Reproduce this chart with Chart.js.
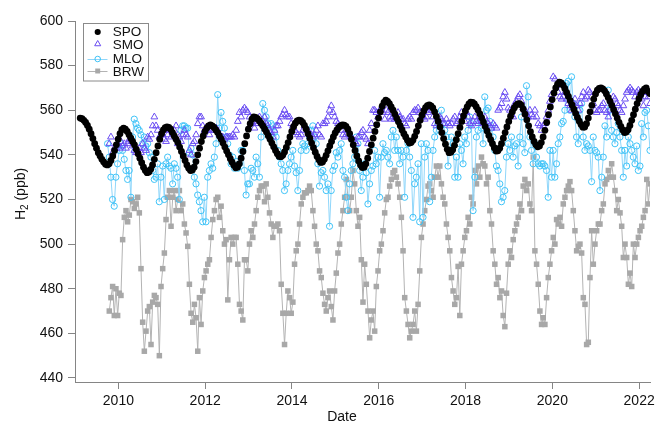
<!DOCTYPE html>
<html><head><meta charset="utf-8">
<script src="https://cdn.jsdelivr.net/npm/chart.js@4.4.1/dist/chart.umd.min.js"></script>
<style>html,body{margin:0;padding:0;background:#fff;}#wrap{width:659px;height:422px;}</style>
</head><body><div id="wrap"><canvas id="c" width="659" height="422"></canvas></div>
<script>
const xTicks = [2010, 2012, 2014, 2016, 2018, 2020, 2022];
const yTicks = [440, 460, 480, 500, 520, 540, 560, 580, 600];
const seriesNames = ['SPO', 'SMO', 'MLO', 'BRW'];
const xTitle = 'Date';

// SPO: semi-monthly samples starting 2009.12
const spoStart = 2009.12, spoStep = 1 / 24;
const spoValues = [556.5,556.2,555.5,554.5,553.2,551.5,549.5,547.3,545,543,541,539.5,538,536.8,535.8,
535.5,536,537.5,539.5,542,544.5,547,549.5,551.3,552,
551.5,550.5,549,547.5,546,544.5,542.5,540.5,538.5,536.5,534.5,533,532,
532.3,533.5,535.5,538,541,544,547,549.5,551.2,552.2,552.5,
552.3,551.5,550,548.5,547,545.5,543.5,541.5,539.5,537.5,535.5,534,533,
533.2,534.5,537,540,543,546,548.5,550.5,552,553,553.4,
553,552.3,551.2,550,548.5,547,545.3,543.5,541.7,540,538.3,536.7,535.3,534.2,
534.5,536,538.5,541.5,545,548.5,551.5,554,556,557,
556.8,556.2,555.3,554.2,553,551.6,550.2,548.6,547,545.3,543.6,542,540.5,539.3,
539.2,539.8,541.3,543.3,545.5,548,550.5,552.6,554.2,555.2,555.6,
555.3,554.5,553.2,551.5,549.5,547.5,545.3,543.2,541.2,539.3,537.8,536.6,
536.8,538,539.8,541.8,544,546,548,549.8,551.2,552.3,553,553.4,553.3,
552.8,551.5,549.5,547,544.5,542,539.5,537.3,535.5,534.3,
534.5,536,538.5,541.5,544.5,547.5,550.5,553.5,556.5,559.3,561.8,563.5,564.5,
564,563,561.5,560,558.3,556.5,554.8,553,551.2,549.5,548,546.5,545.3,
545.5,546.5,548.3,550.5,553,555.5,557.8,559.7,561.2,562.1,562.4,
562,561,559.3,557.2,555,552.5,550,547.3,544.8,542.5,541,
541.2,542.3,544.3,546.8,549.5,552.3,555,557.5,559.7,561.5,562.8,563.6,
563.5,562.8,561.6,560.1,558.4,556.6,554.7,552.7,550.7,548.7,546.8,545,543.2,541.7,
541.8,543,545,547.5,550,552.5,555,557.3,559.3,561,562.2,562.9,563,
562.3,560.5,558.2,555.7,553,550.4,548,546,544.5,543.6,
544,545.5,548,551,554.5,558,561.5,564.8,567.7,570,571.7,572.6,
572.3,571.3,569.8,568,566.2,564.3,562.4,560.5,558.6,556.8,555.1,553.6,552.4,
552.5,554,556.5,559.3,562.2,565,567.3,569,569.8,570,
569.6,568.7,567.3,565.7,564,562.2,560.3,558.4,556.5,554.6,552.8,551.2,550,
550.2,551.3,553.2,555.5,558,560.5,563,565.2,567,568.5,569.5,570,
568.5,567.5];

// SMO: bi-weekly samples starting 2009.79
const smoStart = 2009.79, smoStep = 1 / 26;
const smoValues = [545,548,541,543,543,545,543,546,544,545,543,545,547,546,544,542,541,542,543,541,545,543,542,548,547,549,553,557,553,551,548,549,549,547,
546,549,551,548,550,551,553,545,548,546,549,551,549,548,542,540,545,546,549,554,557,557,553,551,552,551,549,551,552,551,552,551,549,548,548,547,548,548,548,548,549,548,551,555,559,557,560,561,560,559,557,555,554,552,554,555,557,554,
555,557,554,553,551,550,548,551,553,553,555,557,558,560,558,557,557,554,553,551,550,549,548,549,551,553,552,551,549,549,548,549,551,553,549,548,554,554,555,557,560,562,559,557,555,554,553,551,549,548,549,551,549,548,547,546,545,548,
548,550,551,548,547,545,551,554,560,560,559,557,560,561,559,556,560,559,557,556,557,556,557,559,557,556,556,554,553,556,557,556,559,560,560,561,559,557,557,556,557,559,560,560,557,554,553,556,557,556,554,554,556,554,553,554,556,557,
554,555,557,559,557,555,559,557,554,553,555,557,555,554,557,555,554,557,555,554,553,552,554,553,552,560,561,563,566,568,565,561,560,558,557,563,564,566,567,564,561,560,558,557,560,558,557,560,557,554,553,551,553,554,557,560,564,567,
575,574,571,568,566,565,566,568,565,563,562,560,563,565,562,560,563,566,568,565,566,569,568,566,563,560,559,560,560,562,563,560,559,557,560,563,566,565,563,562,560,559,562,565,568,569,570,569,568,566,568,569,568,565,562,566,568,566,563];

// MLO: bi-weekly samples starting 2009.75
const mloStart = 2009.75, mloStep = 1 / 26;
const mloValues = [545,539,530,520,517,530,536,542,545,542,538,533,529,533,521,548,556,554,552,551,549,545,548,544,545,541,539,533,529,530,536,519,530,535,520,
536,539,535,534,527,536,534,530,520,551,553,553,552,552,541,543,540,530,527,522,519,515,510,521,510,530,533,536,534,539,545,567,552,559,555,552,548,545,540,536,539,534,537,534,536,542,542,533,522,527,527,534,533,530,539,536,530,548,
563,560,557,554,551,554,553,550,548,542,539,536,533,524,527,533,536,539,542,535,532,524,533,542,545,544,542,545,548,551,553,548,545,536,526,532,533,530,524,527,508,524,533,535,541,539,542,545,533,530,521,515,527,533,536,539,548,545,
533,524,530,536,532,518,527,533,535,542,536,539,521,539,545,541,542,539,536,548,551,542,548,542,536,542,539,521,542,545,539,533,512,527,530,536,510,545,512,539,545,542,519,530,542,548,551,554,551,560,554,551,548,535,542,548,545,530,
539,530,545,542,536,548,545,551,557,554,515,530,548,551,555,552,545,566,560,561,555,552,548,542,535,533,527,519,521,524,539,545,542,548,539,544,545,535,548,557,545,541,571,566,548,542,536,545,539,536,535,536,536,535,533,521,542,530,
542,530,536,545,548,554,555,560,572,573,560,575,563,557,548,545,560,563,548,542,545,544,542,528,548,542,541,539,524,530,539,553,548,569,560,551,548,545,550,554,548,542,530,542,535,548,545,542,539,536,544,533,535,554,548,559,560,553,542];

// BRW: bi-weekly samples starting 2009.79
const brwStart = 2009.79, brwStep = 1 / 26;
const brwValues = [470,476,481,468,480,468,478,477,502,512,515,510,513,520,519,516,518,521,514,489,465,452,461,470,472,455,474,477,476,473,450,481,489,496,
511,521,524,508,521,524,515,520,524,515,518,509,505,499,482,469,465,473,467,452,476,464,479,485,488,491,493,503,511,515,520,521,512,517,506,500,502,475,493,503,500,503,503,491,473,470,466,493,493,488,500,506,503,509,515,521,524,526,
526,519,527,521,514,509,503,508,508,509,506,482,469,455,469,479,476,469,474,491,497,500,509,518,521,523,523,524,526,524,515,508,500,497,488,485,478,473,470,476,479,472,466,479,487,496,500,509,515,521,529,521,515,521,533,527,515,508,
512,493,474,491,482,470,458,466,470,461,481,488,497,500,506,514,520,521,526,529,532,533,530,527,521,512,497,476,470,464,458,461,464,470,461,473,488,503,509,515,520,526,527,524,521,530,535,530,535,527,521,518,509,503,497,485,479,473,
476,490,468,491,497,503,506,512,509,521,518,533,527,535,530,539,536,535,527,530,515,509,497,491,482,485,476,479,468,463,478,491,497,494,502,506,509,512,518,515,526,529,524,527,518,515,539,497,491,482,470,464,467,464,476,485,491,497,
503,500,511,509,512,508,518,521,524,526,528,524,515,506,497,499,500,496,476,473,455,456,485,506,491,500,506,509,509,515,518,527,529,533,530,536,530,524,515,520,514,508,494,500,494,482,487,481,500,494,500,503,506,508,512,515,529,518,527];

function toPoints(start, step, vals) {
  return vals.map((v, i) => ({ x: start + i * step, y: v }));
}

const FONT = '"Liberation Sans", Arial, Helvetica, sans-serif';
const AXIS = '#858585';

const styles = [
  { pointStyle: 'circle', radius: 3.4, fill: '#000000', stroke: '#000000', bw: 0, line: false },
  { pointStyle: 'triangle', radius: 3.9, fill: 'rgba(0,0,0,0)', stroke: '#6a4df2', bw: 1, line: false },
  { pointStyle: 'circle', radius: 3.1, fill: 'rgba(0,0,0,0)', stroke: '#3fc3f7', bw: 1, line: true, lineColor: '#8fd6fa' },
  { pointStyle: 'rect', radius: 3.9, fill: '#a8a8a8', stroke: '#a8a8a8', bw: 0, line: true, lineColor: '#b3b3b3' }
];
const dataArrays = [
  toPoints(spoStart, spoStep, spoValues),
  toPoints(smoStart, smoStep, smoValues),
  toPoints(mloStart, mloStep, mloValues),
  toPoints(brwStart, brwStep, brwValues)
];

const datasets = seriesNames.map((name, i) => ({
  label: name,
  data: dataArrays[i],
  showLine: styles[i].line,
  borderColor: styles[i].line ? styles[i].lineColor : styles[i].stroke,
  borderWidth: 1,
  pointStyle: styles[i].pointStyle,
  pointRadius: styles[i].radius,
  pointBackgroundColor: styles[i].fill,
  pointBorderColor: styles[i].stroke,
  pointBorderWidth: styles[i].bw,
  pointHoverRadius: styles[i].radius,
  order: i
}));

const overlay = {
  id: 'overlay',
  afterDraw(chart) {
    const ctx = chart.ctx;
    ctx.save();
    ctx.fillStyle = '#ffffff';
    ctx.fillRect(83.5, 23.5, 65, 57.5);
    ctx.strokeStyle = '#8a8a8a';
    ctx.lineWidth = 1;
    ctx.strokeRect(83.5, 23.5, 65, 57.5);
    const rows = [32, 44, 59, 71];
    const baselines = [35.7, 49, 63.3, 76];
    ctx.font = '13.5px ' + FONT;
    ctx.textAlign = 'left';
    ctx.textBaseline = 'alphabetic';
    seriesNames.forEach((name, i) => {
      const s = styles[i];
      const y = rows[i];
      if (s.line) {
        ctx.strokeStyle = s.lineColor;
        ctx.lineWidth = 1;
        ctx.beginPath();
        ctx.moveTo(87.5, y + 0.5);
        ctx.lineTo(107.5, y + 0.5);
        ctx.stroke();
      }
      ctx.fillStyle = s.fill;
      ctx.strokeStyle = s.stroke;
      ctx.lineWidth = s.bw;
      Chart.helpers.drawPoint(ctx, { pointStyle: s.pointStyle, radius: s.radius * 0.9, rotation: 0, borderWidth: s.bw }, 97.7, y);
      ctx.fillStyle = '#111111';
      ctx.fillText(name, 112.7, baselines[i]);
    });
    ctx.fillStyle = '#111111';
    ctx.font = '14px ' + FONT;
    ctx.textAlign = 'center';
    ctx.fillText(xTitle, 342, 420.5);
    ctx.translate(24.5, 194);
    ctx.rotate(-Math.PI / 2);
    ctx.textAlign = 'left';
    const partA = 'H', partB = '2', partC = ' (ppb)';
    ctx.font = '14px ' + FONT;
    const wA = ctx.measureText(partA).width;
    const wC = ctx.measureText(partC).width;
    ctx.font = '10px ' + FONT;
    const wB = ctx.measureText(partB).width;
    const total = wA + wB + wC;
    let x0 = -total / 2;
    ctx.font = '14px ' + FONT;
    ctx.fillText(partA, x0, 0);
    ctx.font = '10px ' + FONT;
    ctx.fillText(partB, x0 + wA, 3);
    ctx.font = '14px ' + FONT;
    ctx.fillText(partC, x0 + wA + wB, 0);
    ctx.restore();
  }
};

new Chart(document.getElementById('c'), {
  type: 'scatter',
  data: { datasets },
  options: {
    responsive: false,
    animation: false,
    devicePixelRatio: 1,
    layout: { padding: { top: 21, right: 9, bottom: 0, left: 0 } },
    plugins: { legend: { display: false }, tooltip: { enabled: false } },
    scales: {
      x: {
        type: 'linear',
        min: 2009.0,
        max: 2022.25,
        afterBuildTicks: s => { s.ticks = xTicks.map(v => ({ value: v })); },
        afterFit: s => { s.height = 40; },
        grid: { display: true, drawOnChartArea: false, drawTicks: true, tickLength: 7, color: AXIS, tickColor: AXIS },
        border: { display: true, color: AXIS, width: 1 },
        ticks: { color: '#111', font: { family: FONT, size: 14 }, padding: 4, maxRotation: 0, autoSkip: false, callback: v => String(v) }
      },
      y: {
        type: 'linear',
        min: 438.2,
        max: 600,
        afterBuildTicks: s => { s.ticks = yTicks.map(v => ({ value: v })); },
        afterFit: s => { s.width = 75; },
        grid: { display: true, drawOnChartArea: false, drawTicks: true, tickLength: 7, color: AXIS, tickColor: AXIS },
        border: { display: true, color: AXIS, width: 1 },
        ticks: { color: '#111', font: { family: FONT, size: 14 }, padding: 5, autoSkip: false, callback: v => String(v) }
      }
    }
  },
  plugins: [overlay]
});
</script>
</body></html>
